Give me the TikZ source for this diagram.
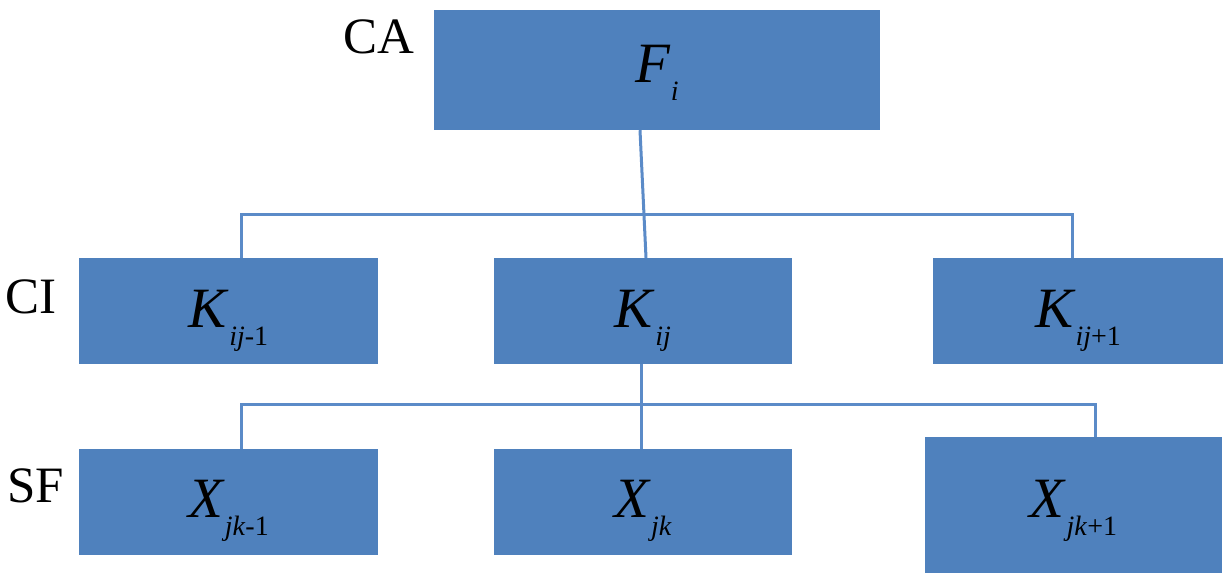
\documentclass[tikz,border=0pt]{standalone}
\usepackage{fontspec}
\setmainfont{Liberation Serif}
\newfontfamily\timesfont{Liberation Serif}
\definecolor{boxblue}{HTML}{4F81BD}
\definecolor{lineblue}{HTML}{5B8BC8}
\newcommand{\symsub}[2]{\textit{#1}\raisebox{-18pt}{\fontsize{28}{28}\selectfont #2}}
\tikzset{
  boxnode/.style={rectangle, fill=boxblue, inner sep=0pt, text depth=0pt,
    font=\timesfont\fontsize{57}{57}\selectfont, text=black},
  levellabel/.style={inner sep=0pt, anchor=base west, font=\timesfont\fontsize{51}{51}\selectfont},
  conn/.style={draw=lineblue, line width=3pt}
}
\begin{document}
\begin{tikzpicture}[x=1pt,y=-1pt]
\useasboundingbox (0,0) rectangle (1230,576);
\fill[white] (0,0) rectangle (1230,576);

% boxes
\node[boxnode, minimum width=446pt, minimum height=120pt, text height=24pt] (F) at (657,70) {\symsub{F}{\textit{i}}};
\node[boxnode, minimum width=299pt, minimum height=106pt, text height=32pt] (Km) at (228.5,311) {\symsub{K}{\textit{ij}-1}};
\node[boxnode, minimum width=298pt, minimum height=106pt, text height=32pt] (K) at (643,311) {\symsub{K}{\textit{ij}}};
\node[boxnode, minimum width=290pt, minimum height=106pt, text height=32pt] (Kp) at (1078,311) {\symsub{K}{\textit{ij}+1}};
\node[boxnode, minimum width=299pt, minimum height=106pt, text height=30pt] (Xm) at (228.5,502) {\symsub{X}{\textit{jk}-1}};
\node[boxnode, minimum width=298pt, minimum height=106pt, text height=30pt] (X) at (643,502) {\symsub{X}{\textit{jk}}};
\node[boxnode, minimum width=297pt, minimum height=136pt, text height=24pt] (Xp) at (1073.5,505) {\symsub{X}{\textit{jk}+1}};

% level labels
\node[levellabel] (CA) at (343,53) {CA};
\node[levellabel] (CI) at (5,313) {CI};
\node[levellabel] (SF) at (7,502) {SF};

% connectors
\draw[conn] ([xshift=12.5pt]Km.north) -- ++(0,-43) -| ([xshift=-6pt]Kp.north);
\draw[conn] ([xshift=-17pt]F.south) -- ([xshift=3pt]K.north);
\draw[conn] ([xshift=12.5pt]Xm.north) -- ++(0,-44) -| ([xshift=21.5pt]Xp.north);
\draw[conn] ([xshift=-2pt]K.south) -- ([xshift=-2pt]X.north);
\end{tikzpicture}
\end{document}
